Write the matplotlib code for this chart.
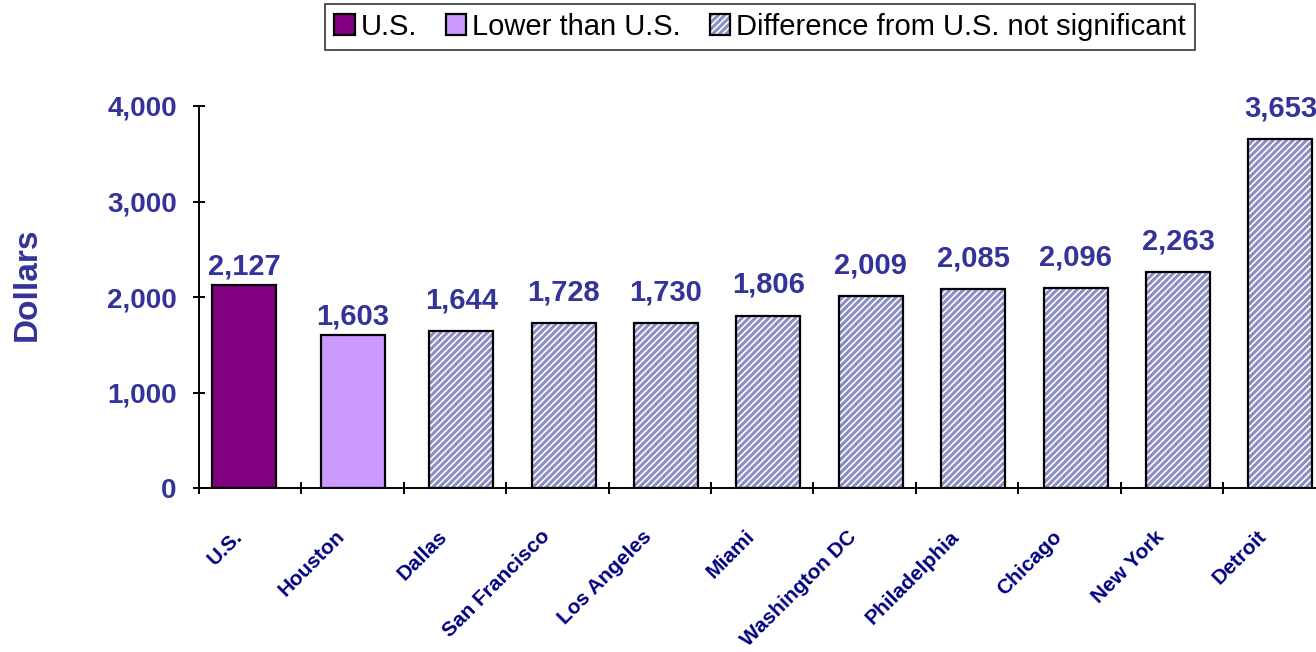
import matplotlib
matplotlib.use("Agg")
from matplotlib import pyplot as plt
from matplotlib.patches import Patch

cities = ["U.S.", "Houston", "Dallas", "San Francisco", "Los Angeles", "Miami",
          "Washington DC", "Philadelphia", "Chicago", "New York", "Detroit"]
values = [2127, 1603, 1644, 1728, 1730, 1806, 2009, 2085, 2096, 2263, 3653]
groups = ["us", "lower", "ns", "ns", "ns", "ns", "ns", "ns", "ns", "ns", "ns"]
legend_labels = ["U.S.", "Lower than U.S.", "Difference from U.S. not significant"]

plt.rcParams["font.family"] = ["Liberation Sans", "DejaVu Sans"]
plt.rcParams["hatch.linewidth"] = 2.2

NAVY = "#333399"
HATCH = "#8c8cc4"
fills = {"us": "#800080", "lower": "#cc99ff", "ns": "white"}
hatches = {"us": None, "lower": None, "ns": "/////"}
label_gap = {"us": 3, "lower": 3, "ns": 12}
# Excel-style overlapped series: each series sits slightly off the slot centre
shift = {"us": -0.06, "lower": 0.0, "ns": 0.06}
BAR_W = 0.625

fig = plt.figure(figsize=(13.16, 6.52), dpi=100)
ax = fig.add_axes([199 / 1316, 1 - 488 / 652, 1117 / 1316, 382 / 652])

for i, (v, g) in enumerate(zip(values, groups)):
    x = i + shift[g]
    # fill + hatch first (hatch takes the edge colour), then black outline
    ax.bar(x, v, width=BAR_W, color=fills[g], hatch=hatches[g],
           edgecolor=HATCH, linewidth=0)
    ax.bar(x, v, width=BAR_W, fill=False, edgecolor="black", linewidth=1.6)
    ax.annotate(f"{v:,}", (x, v), xytext=(0, label_gap[g]),
                textcoords="offset points", ha="center", va="bottom",
                fontsize=21, fontweight="bold", color=NAVY, annotation_clip=False)

ax.set_xlim(-0.5, -0.5 + 1117 / 102.4)
ax.set_ylim(0, 4000)
ax.set_yticks([0, 1000, 2000, 3000, 4000])
ax.set_yticklabels([f"{t:,}" for t in [0, 1000, 2000, 3000, 4000]],
                   fontsize=20, fontweight="bold", color=NAVY)
ax.set_xticks([i - 0.17 for i in range(len(cities))])
ax.set_xticklabels(cities, rotation=45, ha="right", rotation_mode="anchor",
                   fontsize=15, fontweight="bold", color="#000080")
ax.tick_params(axis="x", length=0, pad=28)
ax.set_xticks([i - 0.5 for i in range(len(cities))], minor=True)
ax.tick_params(axis="x", which="minor", length=8, width=1.4, direction="inout")
ax.tick_params(axis="y", length=8, width=1.4, direction="inout", pad=12)
for side in ["top", "right"]:
    ax.spines[side].set_visible(False)
for side in ["left", "bottom"]:
    ax.spines[side].set_linewidth(1.4)

fig.text(27 / 1316, 1 - 284 / 652, "Dollars", rotation=90, ha="center",
         va="center", fontsize=24, fontweight="bold", color=NAVY)

handles = []
for g in ["us", "lower", "ns"]:
    body = Patch(facecolor=fills[g], hatch=hatches[g], edgecolor=HATCH, linewidth=0)
    edge = Patch(fill=False, edgecolor="black", linewidth=1.6)
    handles.append((body, edge))
leg = fig.legend(handles, legend_labels, loc="upper center", ncol=3,
                 bbox_to_anchor=(760 / 1316, 1 - 4 / 652), fontsize=21,
                 frameon=True, fancybox=False, edgecolor="black",
                 handlelength=0.7, handleheight=0.7, handletextpad=0.2,
                 columnspacing=1.0, borderpad=0.3, borderaxespad=0.0)
leg.get_frame().set_linewidth(1.2)

fig.savefig("out.png", dpi=100)
